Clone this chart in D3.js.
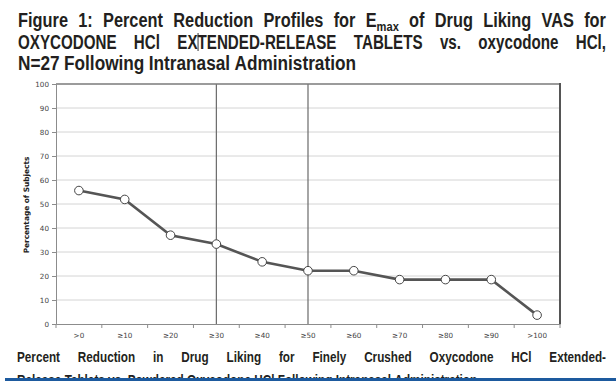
<!DOCTYPE html>
<html><head><meta charset="utf-8">
<script src="https://cdn.jsdelivr.net/npm/d3@7"></script>
<style>
html,body{margin:0;padding:0;background:#fff;}
svg{display:block;}
</style></head>
<body>
<svg id="c" width="616" height="381"></svg>
<script>
const categories = [">0","≥10","≥20","≥30","≥40","≥50","≥60","≥70","≥80","≥90",">100"];
const percentSubjects = [55.6,51.9,37.0,33.3,25.9,22.2,22.2,18.5,18.5,18.5,3.7];
const yTicks = [0,10,20,30,40,50,60,70,80,90,100];
const refLines = ["≥30","≥50"];
const yTitle = "Percentage of Subjects";
const titleLines = [
  [["Figure"],["1:"],["Percent"],["Reduction"],["Profiles"],["for"],["E",["max"]],["of"],["Drug"],["Liking"],["VAS"],["for"]],
  [["OXYCODONE"],["HCl"],["EXTENDED-RELEASE"],["TABLETS"],["vs."],["oxycodone"],["HCl,"]],
  [["N=27"],["Following"],["Intranasal"],["Administration"]]
];
const captionLines = [
  "Percent Reduction in Drug Liking for Finely Crushed Oxycodone HCl Extended-",
  "Release Tablets vs. Powdered Oxycodone HCl Following Intranasal Administration"
];

const svg = d3.select("#c");
const narrowFont = '"Liberation Sans",Arial,sans-serif';
const textCol = "#231f20";

const m = {left:56, right:560, top:84, bottom:324};
const x = d3.scaleBand().domain(categories).range([m.left, m.right]);
const y = d3.scaleLinear().domain([0,100]).range([m.bottom, m.top]);

// gridlines
svg.append("g").selectAll("line").data(yTicks.filter(d=>d>0 && d<100)).join("line")
  .attr("x1", m.left).attr("x2", m.right)
  .attr("y1", d=>y(d)).attr("y2", d=>y(d))
  .attr("stroke", "#d4d4d4").attr("stroke-width", 1);

// reference vertical lines
svg.append("g").selectAll("line").data(refLines).join("line")
  .attr("x1", d=>x(d)+x.bandwidth()/2).attr("x2", d=>x(d)+x.bandwidth()/2)
  .attr("y1", m.top).attr("y2", m.bottom)
  .attr("stroke", "#6a6a6a").attr("stroke-width", 1.2);

// top border and right border
svg.append("line").attr("x1", m.left).attr("x2", m.right).attr("y1", m.top).attr("y2", m.top)
  .attr("stroke", "#7a7a7a").attr("stroke-width", 1.5);
svg.append("line").attr("x1", m.right).attr("x2", m.right).attr("y1", m.top-1).attr("y2", m.bottom)
  .attr("stroke", "#555").attr("stroke-width", 2);

// y axis
const yAxis = svg.append("g").attr("transform", `translate(${m.left},0)`)
  .call(d3.axisLeft(y).tickValues(yTicks).tickSize(4).tickPadding(3));
yAxis.select(".domain").attr("stroke", "#8c8c8c");
yAxis.selectAll(".tick line").attr("stroke", "#8c8c8c");
yAxis.selectAll("text").attr("font-family", '"DejaVu Sans",sans-serif').attr("font-size", 7.2).attr("fill", "#444");

// x axis
const xAxis = svg.append("g").attr("transform", `translate(0,${m.bottom})`)
  .call(d3.axisBottom(x).tickSize(0).tickPadding(9));
xAxis.select(".domain").attr("stroke", "#8c8c8c");
xAxis.selectAll("text").attr("font-family", '"DejaVu Sans",sans-serif').attr("font-size", 7.2).attr("fill", "#444");
const bounds = categories.map(c=>x(c)).concat([m.right]);
svg.append("g").selectAll("line").data(bounds).join("line")
  .attr("x1", d=>d).attr("x2", d=>d).attr("y1", m.bottom).attr("y2", m.bottom+4)
  .attr("stroke", "#8c8c8c");

// y title
svg.append("text").attr("transform", `translate(29,${(m.top+m.bottom)/2+1}) rotate(-90)`)
  .attr("text-anchor", "middle").attr("font-family", '"DejaVu Sans",sans-serif')
  .attr("font-weight", "bold").attr("font-size", 7.4).attr("fill", "#222").text(yTitle);

// line
const pts = categories.map((c,i)=>({c, v: percentSubjects[i]}));
svg.append("path").datum(pts)
  .attr("d", d3.line().x(d=>x(d.c)+x.bandwidth()/2).y(d=>y(d.v)))
  .attr("fill", "none").attr("stroke", "#555").attr("stroke-width", 2.6);
svg.append("g").selectAll("circle").data(pts).join("circle")
  .attr("cx", d=>x(d.c)+x.bandwidth()/2).attr("cy", d=>y(d.v)).attr("r", 4.3)
  .attr("fill", "#fff").attr("stroke", "#444").attr("stroke-width", 1);

// condensed, justified text helper
function makeWords(g, words, baseline, size){
  return words.map(w=>{
    const t = g.append("text").attr("y", baseline).attr("font-family", narrowFont)
      .attr("font-weight", "bold").attr("font-size", size).attr("fill", textCol);
    t.append("tspan").text(w[0]);
    if (w[1]) t.append("tspan").attr("font-size", size*0.68).attr("dy", size*0.22).text(w[1][0]);
    return t;
  });
}
function measure(str, size){
  const t = svg.append("text").attr("y", -100).attr("font-family", narrowFont)
    .attr("font-weight", "bold").attr("font-size", size).text(str);
  const w = t.node().getComputedTextLength(); t.remove(); return w;
}
function drawLine(words, x0, x1, baseline, size, k, justify){
  const g = svg.append("g");
  const nodes = makeWords(g, words, baseline, size);
  const widths = nodes.map(n=>n.node().getComputedTextLength()*k);
  nodes.forEach((n,i)=>n.attr("textLength", widths[i]).attr("lengthAdjust","spacingAndGlyphs"));
  const total = d3.sum(widths);
  const gap = justify ? (x1-x0-total)/(nodes.length-1) : size*0.22;
  let cx = x0;
  const xs = [];
  nodes.forEach((n,i)=>{ n.attr("x", cx); xs.push(cx); cx += widths[i] + gap; });
  return xs;
}
function factor(words, size, target){
  const g = svg.append("g");
  const nodes = makeWords(g, words, -100, size);
  const w = d3.sum(nodes, n=>n.node().getComputedTextLength());
  g.remove();
  return (target - size*0.22*(words.length-1)) / w;
}
const tSize = 20, cSize = 15;
const kT = factor(titleLines[2], tSize, 338);
const tBase = [27, 49, 70];
const lineK = [kT*0.95, kT*0.88, kT];
let line2xs;
titleLines.forEach((ln,i)=> {
  const xs = drawLine(ln, 18, 606, tBase[i], tSize, lineK[i], i<2);
  if (i===1) line2xs = xs;
});
const capWords = captionLines.map(s=>s.split(" ").map(w=>[w]));
const kC = factor(capWords[1], cSize, 483) * 0.95;
drawLine(capWords[0], 17, 606, 362, cSize, kC, true);
drawLine(capWords[1], 17, 606, 385, cSize, kC, false);

// cursor artifact in title (between "EX" and "TENDED")
const cursorX = line2xs[2] + measure("EX", tSize)*lineK[1] + 0.5;
svg.append("line").attr("x1", cursorX).attr("x2", cursorX).attr("y1", 33).attr("y2", 51)
  .attr("stroke", "#333").attr("stroke-width", 1);
// blue bottom rule
svg.append("rect").attr("x", 5).attr("y", 378).attr("width", 611).attr("height", 3).attr("fill", "#1d5a9e");
</script>
</body></html>
